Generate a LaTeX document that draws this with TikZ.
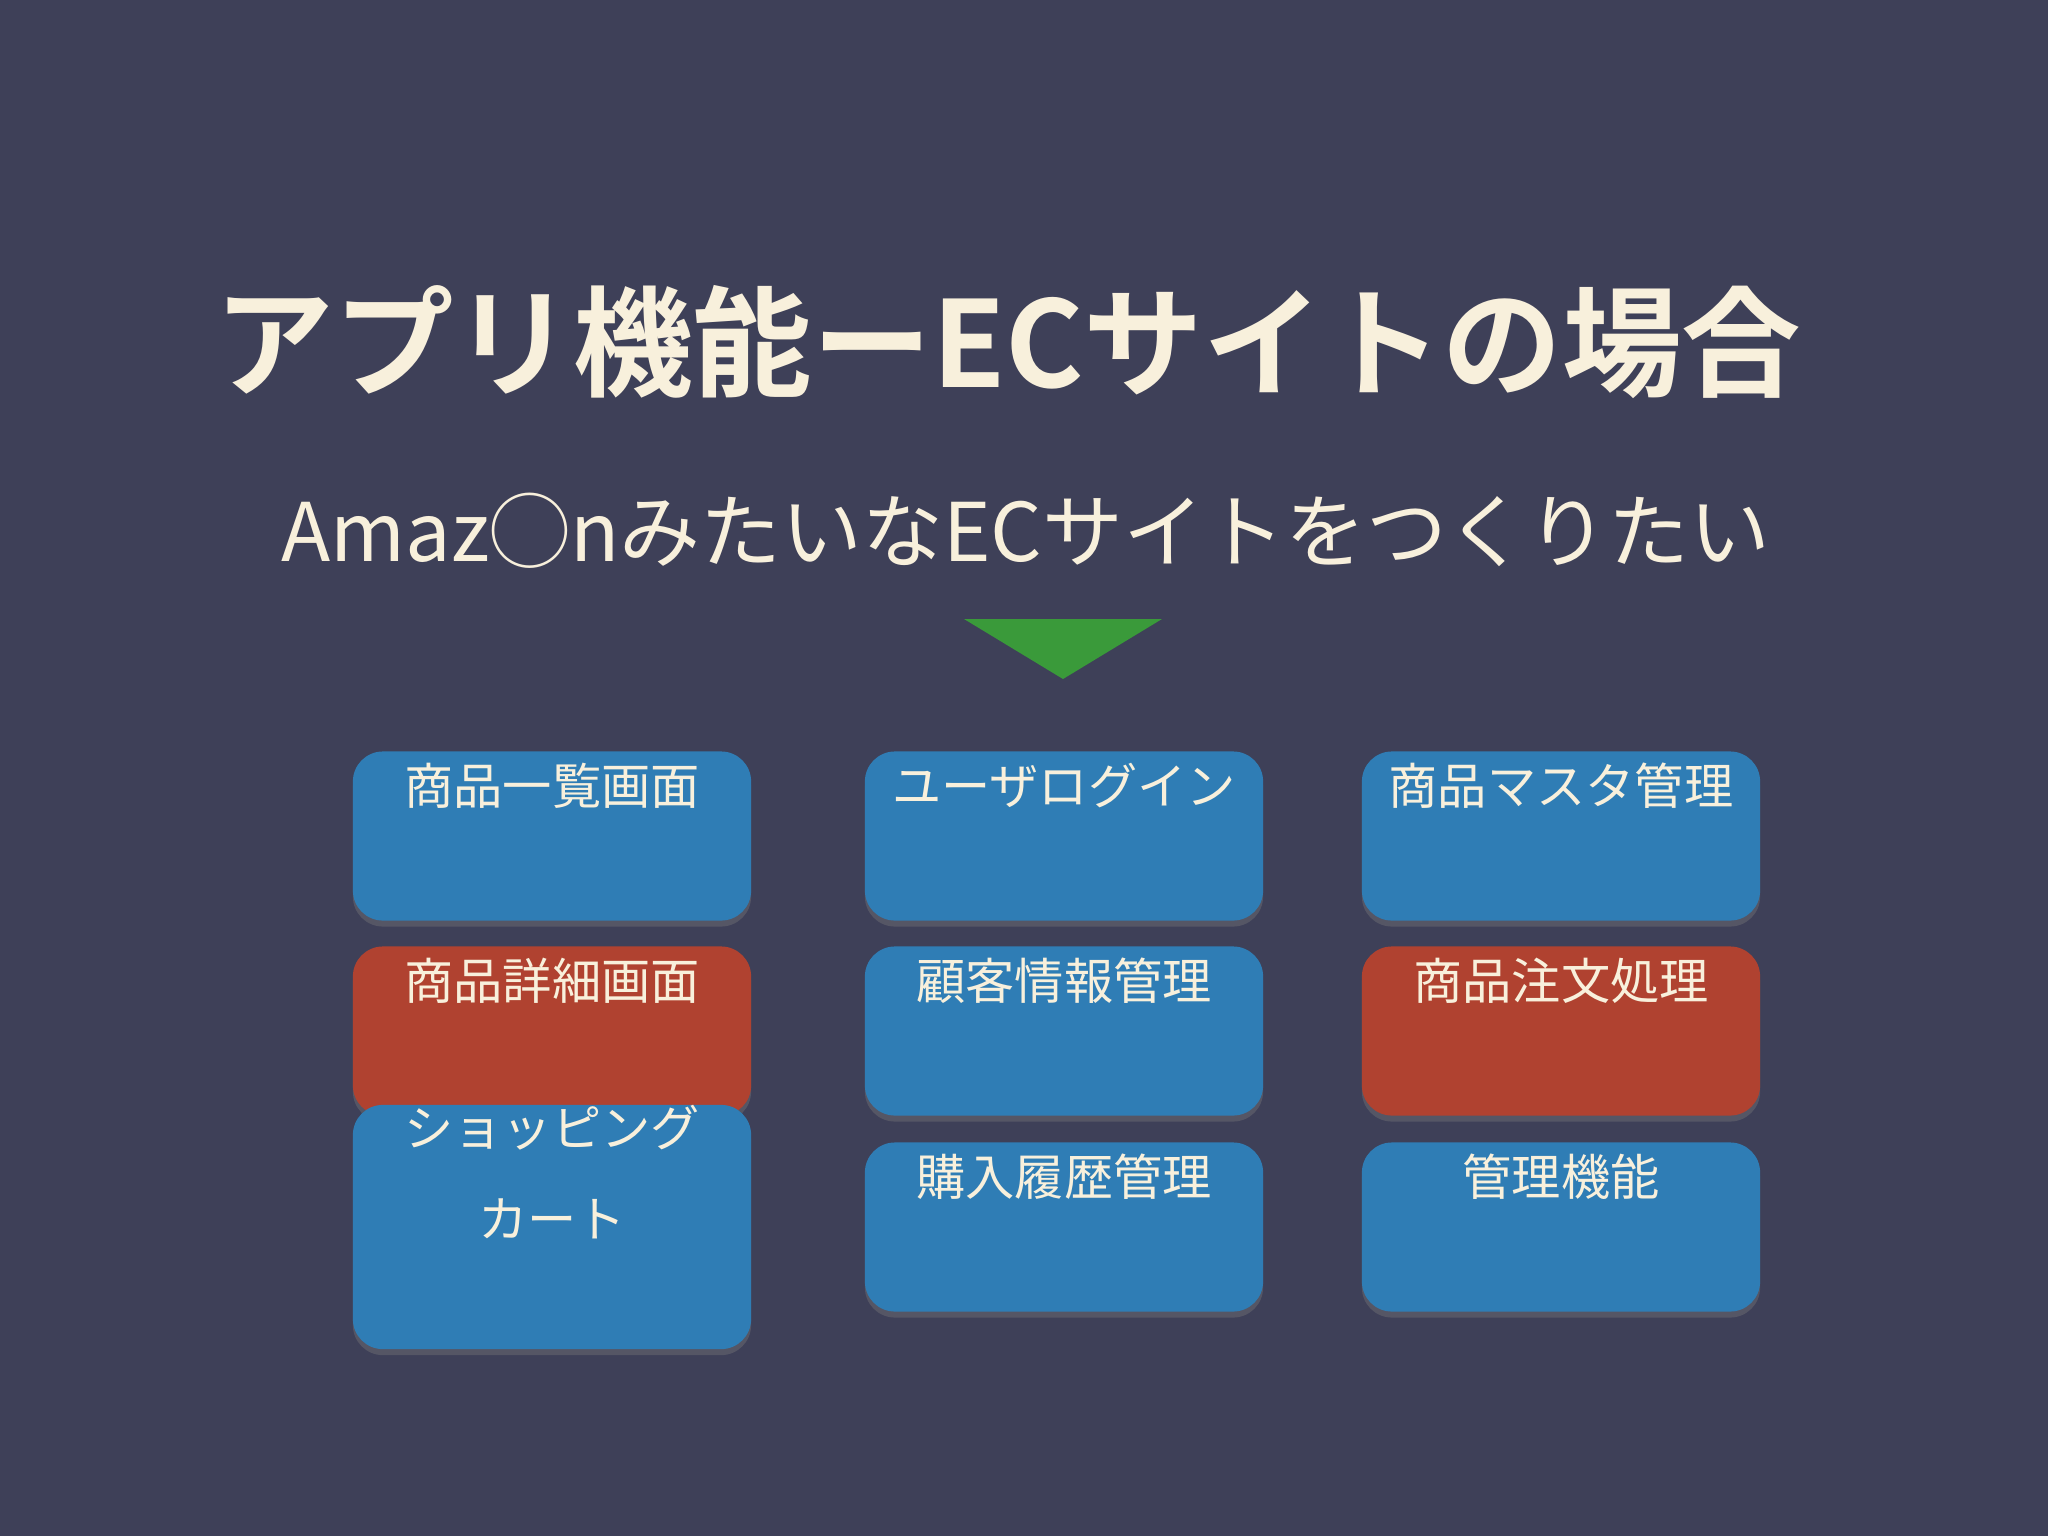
\documentclass[tikz,border=0pt]{standalone}
\usepackage{fontspec}
\usetikzlibrary{shadows}
\setmainfont{Noto Sans CJK JP}
\newfontfamily\jpbold{Noto Sans CJK JP Bold}
\definecolor{bg}{HTML}{3E4058}
\definecolor{bblue}{HTML}{2F7DB5}
\definecolor{bred}{HTML}{B04230}
\definecolor{cream}{HTML}{F8F0DC}
\definecolor{tgreen}{HTML}{3A9A3A}
\begin{document}
\begin{tikzpicture}[x=0.01cm,y=-0.01cm,
  box/.style={rounded corners=0.3cm,minimum width=3.98cm,minimum height=1.69cm,
    text=cream,font=\fontsize{14pt}{20pt}\selectfont,align=center,inner sep=0pt,
    draw=none,drop shadow={shadow xshift=0pt,shadow yshift=-0.06cm,opacity=0.35}},
  bluebox/.style={box,fill=bblue},
  redbox/.style={box,fill=bred}]
\fill[bg] (0,0) rectangle (2048,1536);
\useasboundingbox (0,0) rectangle (2048,1536);
\node[text=cream,font=\jpbold\fontsize{34pt}{40pt}\selectfont] (title) at (1008,342) {アプリ機能ーECサイトの場合};
\node[text=cream,font=\fontsize{23pt}{28pt}\selectfont] (sub) at (1026,531) {Amaz◯nみたいなECサイトをつくりたい};
\fill[tgreen] (964,619) -- (1162,619) -- (1063,679) -- cycle;
\node[bluebox] (a1) at (552,836) {商品一覧画面\\[0.35cm]};
\node[bluebox] (a2) at (1064,836) {ユーザログイン\\[0.35cm]};
\node[bluebox] (a3) at (1561,836) {商品マスタ管理\\[0.35cm]};
\node[redbox] (b1) at (552,1031) {商品詳細画面\\[0.35cm]};
\node[bluebox] (b2) at (1064,1031) {顧客情報管理\\[0.35cm]};
\node[redbox] (b3) at (1561,1031) {商品注文処理\\[0.35cm]};
\node[bluebox,font=\fontsize{14pt}{26pt}\selectfont] (c1) at (552,1227) {ショッピング\\カート\\[0.2cm]};
\node[bluebox] (c2) at (1064,1227) {購入履歴管理\\[0.35cm]};
\node[bluebox] (c3) at (1561,1227) {管理機能\\[0.35cm]};
\end{tikzpicture}
\end{document}
